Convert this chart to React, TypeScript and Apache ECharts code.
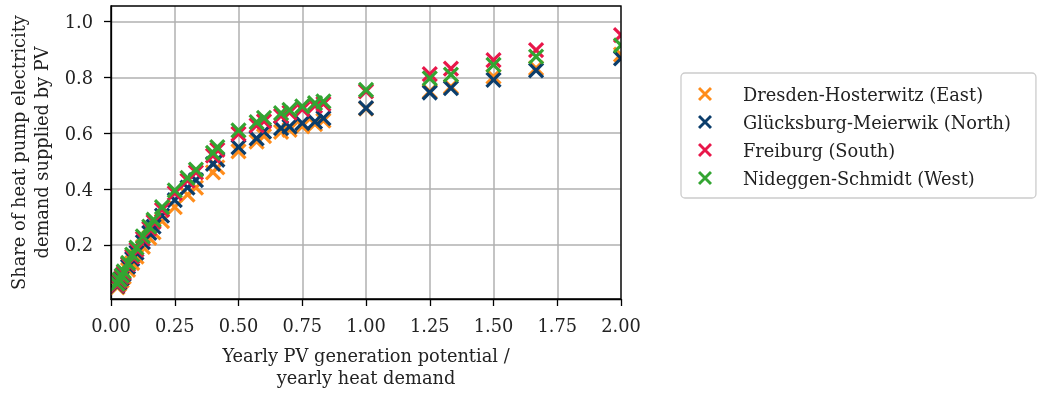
import React, { useEffect, useRef } from 'react';
import * as echarts from 'echarts';

const locations = [
  'Dresden-Hosterwitz (East)',
  'Glücksburg-Meierwik (North)',
  'Freiburg (South)',
  'Nideggen-Schmidt (West)',
];
const colors = ['#ff8c1a', '#0b3d6b', '#e8174a', '#33a532'];

const pvRatio = [0.025, 0.033, 0.042, 0.05, 0.067, 0.083, 0.1, 0.125, 0.15, 0.167, 0.2, 0.25, 0.3, 0.333, 0.4, 0.417, 0.5, 0.571, 0.6, 0.667, 0.7, 0.75, 0.8, 0.833, 1.0, 1.25, 1.333, 1.5, 1.667, 2.0];

const eastShare = [0.048, 0.06, 0.072, 0.085, 0.11, 0.135, 0.158, 0.193, 0.225, 0.245, 0.285, 0.335, 0.38, 0.405, 0.46, 0.478, 0.535, 0.57, 0.59, 0.605, 0.612, 0.625, 0.633, 0.645, 0.688, 0.75, 0.767, 0.803, 0.833, 0.882];
const northShare = [0.052, 0.066, 0.08, 0.095, 0.122, 0.15, 0.172, 0.21, 0.243, 0.265, 0.305, 0.36, 0.405, 0.432, 0.49, 0.505, 0.55, 0.582, 0.606, 0.618, 0.624, 0.636, 0.642, 0.654, 0.69, 0.746, 0.762, 0.791, 0.825, 0.868];
const southShare = [0.055, 0.07, 0.085, 0.1, 0.13, 0.158, 0.183, 0.222, 0.258, 0.282, 0.325, 0.385, 0.43, 0.46, 0.52, 0.54, 0.598, 0.628, 0.643, 0.662, 0.674, 0.686, 0.698, 0.705, 0.75, 0.812, 0.832, 0.862, 0.898, 0.952];
const westShare = [0.06, 0.075, 0.09, 0.105, 0.135, 0.165, 0.19, 0.23, 0.265, 0.29, 0.335, 0.395, 0.44, 0.47, 0.53, 0.55, 0.61, 0.64, 0.655, 0.672, 0.684, 0.696, 0.708, 0.714, 0.755, 0.797, 0.81, 0.845, 0.875, 0.915];

const shares = [eastShare, northShare, southShare, westShare];
const yTicks = [0.2, 0.4, 0.6, 0.8, 1.0];

const FONT = 'DejaVu Serif';
const FS = 17.8;
const X_ICON = 'path://M0.85,-0.85L10.85,9.15L9.15,10.85L-0.85,0.85Z M10.85,0.85L0.85,10.85L-0.85,9.15L9.15,-0.85Z';

export default function App() {
  const ref = useRef<HTMLDivElement>(null);
  useEffect(() => {
    if (!ref.current) return;
    const chart = echarts.init(ref.current, null, { renderer: 'svg' });
    const series = locations.map((name, i) => ({
      name,
      type: 'custom',
      clip: true,
      itemStyle: { color: colors[i] },
      encode: { x: 0, y: 1 },
      data: pvRatio.map((x, j) => [x, shares[i][j]]),
      renderItem: (params: any, api: any) => {
        const p = api.coord([api.value(0), api.value(1)]);
        const s = 7;
        const style = { stroke: colors[i], lineWidth: 3.2, fill: null };
        return {
          type: 'group',
          children: [
            { type: 'line', shape: { x1: p[0] - s, y1: p[1] - s, x2: p[0] + s, y2: p[1] + s }, style },
            { type: 'line', shape: { x1: p[0] - s, y1: p[1] + s, x2: p[0] + s, y2: p[1] - s }, style },
          ],
        };
      },
    }));
    chart.setOption({
      animation: false,
      textStyle: { fontFamily: FONT },
      grid: { left: 111, right: 419, top: 6, bottom: 95 },
      graphic: [
        {
          type: 'rect',
          z: 100,
          shape: { x: 111, y: 6, width: 510, height: 293 },
          style: { fill: 'none', stroke: '#000', lineWidth: 1.3 },
          silent: true,
        },
      ],
      legend: {
        orient: 'vertical',
        left: 681,
        top: 73,
        padding: [11, 25, 10, 17],
        itemWidth: 14,
        itemHeight: 14,
        itemGap: 8,
        borderColor: '#cccccc',
        borderWidth: 1.3,
        borderRadius: 4,
        backgroundColor: '#fff',
        data: locations.map((name, i) => ({ name, icon: X_ICON, itemStyle: { color: colors[i] } })),
        textStyle: { fontFamily: FONT, fontSize: FS, color: '#222', lineHeight: 20, padding: [0, 0, 0, 26] },
      },
      xAxis: {
        type: 'value',
        min: 0,
        max: 2,
        interval: 0.25,
        name: 'Yearly PV generation potential /\nyearly heat demand',
        nameLocation: 'middle',
        nameGap: 45,
        nameTextStyle: { fontFamily: FONT, fontSize: FS, color: '#222', lineHeight: 22, verticalAlign: 'top' },
        axisLine: { show: true, lineStyle: { color: '#000', width: 1.3 } },
        axisTick: { show: true, inside: false, length: 7, lineStyle: { color: '#000', width: 1.3 } },
        axisLabel: { fontFamily: FONT, fontSize: FS, color: '#222', margin: 17, formatter: (v: number) => v.toFixed(2) },
        splitLine: { show: true, lineStyle: { color: '#b0b0b0', width: 1.5 } },
      },
      yAxis: {
        type: 'value',
        min: 0.006,
        max: 1.056,
        name: 'Share of heat pump electricity\ndemand supplied by PV',
        nameLocation: 'middle',
        nameGap: 58,
        nameTextStyle: { fontFamily: FONT, fontSize: FS, color: '#222', lineHeight: 23 },
        axisLine: { show: true, lineStyle: { color: '#000', width: 1.3 } },
        axisTick: { show: true, inside: false, length: 7, customValues: yTicks, lineStyle: { color: '#000', width: 1.3 } },
        axisLabel: { fontFamily: FONT, fontSize: FS, color: '#222', margin: 18, customValues: yTicks, formatter: (v: number) => v.toFixed(1) },
        splitLine: { show: true, lineStyle: { color: '#b0b0b0', width: 1.5 } },
      },
      series,
    });
    return () => chart.dispose();
  }, []);
  return <div ref={ref} style={{ position: 'fixed', left: 0, top: 0, width: 1040, height: 394 }} />;
}
